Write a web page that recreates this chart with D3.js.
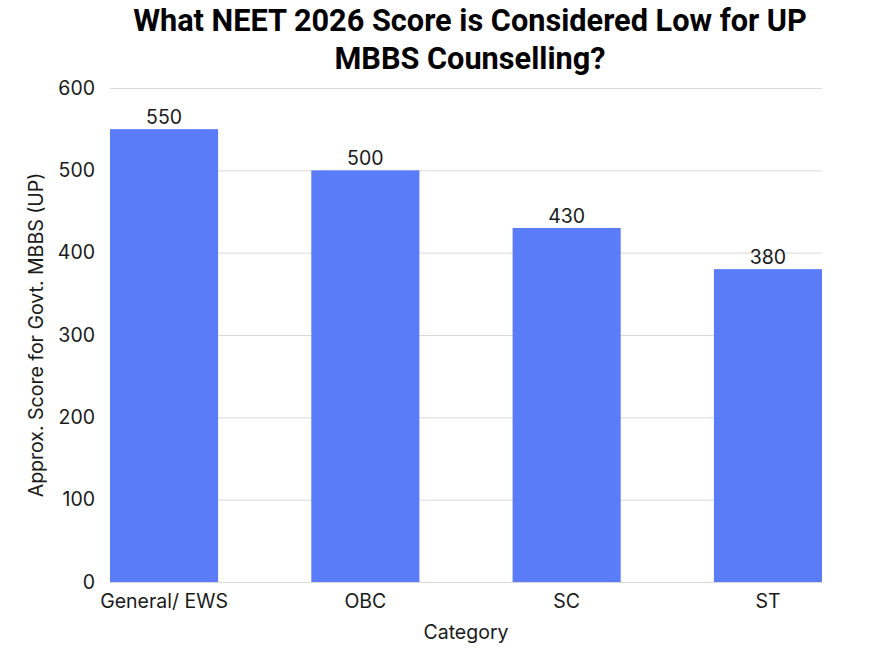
<!DOCTYPE html>
<html><head><meta charset="utf-8">
<script src="https://cdn.jsdelivr.net/npm/d3@7"></script>
<style>body{margin:0;background:#fff}svg{display:block}</style>
</head><body><div id="chart"></div>
<script>
const categories = ["General/ EWS", "OBC", "SC", "ST"];
const scores = [550, 500, 430, 380];
const yTicks = [0, 100, 200, 300, 400, 500, 600];
const titleLines = ["What NEET 2026 Score is Considered Low for UP", "MBBS Counselling?"];
const xTitle = "Category";
const yTitle = "Approx. Score for Govt. MBBS (UP)";

const W = 888, H = 652;
const m = {left: 110, right: 66, top: 88, bottom: 70};
const svg = d3.select("#chart").append("svg").attr("width", W).attr("height", H);
const font = "Inter, 'Open Sans', sans-serif";
const fs = 19.5;

const x = d3.scaleBand().domain(categories).range([m.left, W - m.right]).paddingInner(0.463).paddingOuter(0);
const y = d3.scaleLinear().domain([0, 600]).range([H - m.bottom, m.top]);

// gridlines
const yAxis = d3.axisLeft(y).tickValues(yTicks).tickSize(-(W - m.left - m.right)).tickPadding(15);
const gy = svg.append("g").attr("transform", `translate(${m.left},0)`).call(yAxis);
gy.select(".domain").remove();
gy.selectAll(".tick line").attr("stroke", "#d9d9d9").attr("stroke-width", 1);
gy.selectAll(".tick text").attr("font-family", font).attr("font-size", fs).attr("fill", "#1a1a1a");

// bars
svg.append("g").selectAll("rect").data(categories).join("rect")
  .attr("x", d => x(d)).attr("width", x.bandwidth())
  .attr("y", (d, i) => y(scores[i])).attr("height", (d, i) => y(0) - y(scores[i]))
  .attr("fill", "#5b7cf9");

// value labels
svg.append("g").selectAll("text").data(categories).join("text")
  .attr("x", d => x(d) + x.bandwidth() / 2)
  .attr("y", (d, i) => y(scores[i]) - 5)
  .attr("text-anchor", "middle").attr("font-family", font).attr("font-size", fs).attr("fill", "#1a1a1a")
  .text((d, i) => scores[i]);

// x axis
const gx = svg.append("g").attr("transform", `translate(0,${H - m.bottom})`).call(d3.axisBottom(x).tickSize(0).tickPadding(12));
gx.select(".domain").remove();
gx.selectAll(".tick text").attr("font-family", font).attr("font-size", fs).attr("fill", "#1a1a1a");

// axis titles
svg.append("text").attr("x", (m.left + W - m.right) / 2).attr("y", 639)
  .attr("text-anchor", "middle").attr("font-family", font).attr("font-size", fs).attr("fill", "#1a1a1a").text(xTitle);
svg.append("text").attr("transform", `translate(43,${(y(0) + y(600)) / 2}) rotate(-90)`)
  .attr("text-anchor", "middle").attr("font-family", font).attr("font-size", fs).attr("fill", "#1a1a1a").text(yTitle);

// title
svg.append("g").selectAll("text").data(titleLines).join("text")
  .attr("x", 470).attr("y", (d, i) => 31 + i * 38)
  .attr("text-anchor", "middle").attr("font-family", "Roboto, 'Open Sans', sans-serif").attr("font-weight", "bold")
  .attr("font-size", 30.7).attr("fill", "#000").text(d => d);
</script></body></html>
